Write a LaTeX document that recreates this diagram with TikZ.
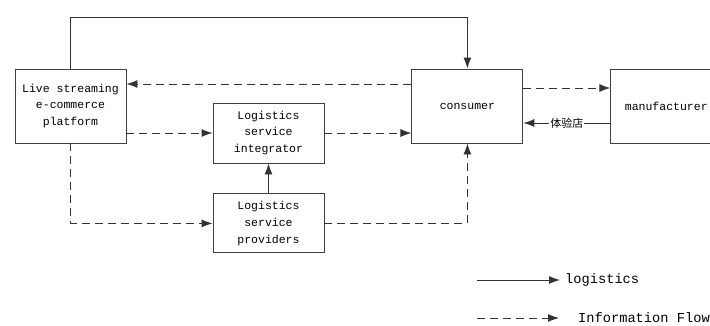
\documentclass[tikz,border=0pt]{standalone}
\usepackage{fontspec}
\setmonofont{Liberation Mono}
\newfontfamily\cjk{Noto Sans CJK SC}
\usepackage{tikz}
\usetikzlibrary{arrows.meta, positioning, calc}

\begin{document}
\begin{tikzpicture}[
    x=1pt, y=-1pt,
    node distance=30pt and 87pt,
    box/.style={
        draw=black!75, line width=0.9pt, minimum width=111pt,
        inner sep=0pt, align=center,
        font=\ttfamily\fontsize{11.5}{16.7}\selectfont
    },
    logi/.style={-{Latex[length=11pt,width=8pt]}, draw=black!80, line width=0.9pt},
    info/.style={logi, dash pattern=on 8pt off 5pt},
    legtext/.style={anchor=west, inner sep=0pt, font=\ttfamily\fontsize{13.7}{16}\selectfont}
]
    \useasboundingbox (0,0) rectangle (710,325);

    % boxes
    \node[box, minimum height=74pt] (platform) at (70.5,106) {Live streaming\\e-commerce\\platform};
    \node[box, minimum height=74pt, right=285pt of platform] (consumer) {consumer};
    \node[box, minimum height=74pt, right=of consumer] (manufacturer) {manufacturer};
    \node[box, minimum height=60pt] (integrator) at (268.5,133) {Logistics\\service\\integrator};
    \node[box, minimum height=59pt, below=of integrator] (providers) {Logistics\\service\\providers};

    % logistics (solid)
    \draw[logi] (platform.north) -- ++(0,-51) -| (consumer.north);
    \draw[logi] (providers.north) -- (integrator.south);
    \draw[logi] ([yshift=-17pt]manufacturer.west) -- ([yshift=-17pt]consumer.east)
        node[midway, fill=white, inner sep=1pt, font=\cjk\fontsize{11}{13}\selectfont] (shop) {体验店};

    % information flow (dashed)
    \draw[info] ([yshift=22pt]consumer.west) -- ([yshift=22pt]platform.east);
    \draw[info] (platform.east |- integrator) -- (integrator.west);
    \draw[info] (integrator.east) -- (consumer.west |- integrator);
    \draw[info] ([yshift=18pt]consumer.east) -- ([yshift=18pt]manufacturer.west);
    \draw[info] (platform.south) |- (providers.west);
    \draw[info] (providers.east) -| (consumer.south);

    % legend
    \coordinate (logA) at (477,280);
    \coordinate (logB) at (560,280);
    \coordinate (infA) at (477,318);
    \coordinate (infB) at (559,318);
    \draw[logi] (logA) -- (logB);
    \draw[info] (infA) -- (infB);
    \node[legtext] (logtxt) at (565,280) {logistics};
    \node[legtext] (inftxt) at (578,318) {Information Flow};
\end{tikzpicture}
\end{document}
